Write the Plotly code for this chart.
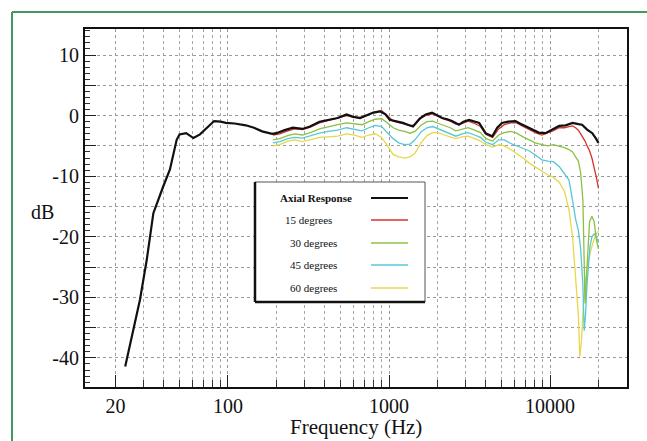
import plotly.graph_objects as go

# ---------------- data ----------------
axial_f = [23, 26, 28.4, 31.3, 34.4, 39.6, 43.6, 48, 50, 55, 61, 67, 75, 82, 90, 97, 110, 129, 145, 163,
           188, 200, 225, 253, 290, 323, 370, 430, 480, 545, 600, 661, 730, 800, 880, 950, 1010, 1100,
           1220, 1310, 1410, 1550, 1690, 1850, 2000, 2140, 2300, 2460, 2720, 2900, 3140, 3400, 3630,
           3980, 4380, 4700, 5030, 5500, 6100, 6500, 7030, 7700, 8500, 9370, 10300, 11400, 12500,
           13800, 15000, 15800, 17000, 18300, 19300, 20000]
axial_db = [-41.4, -35.0, -30.4, -23.8, -16.1, -11.7, -8.9, -4.0, -3.1, -2.9, -3.7, -3.1, -1.8, -0.9,
            -1.0, -1.2, -1.3, -1.6, -2.0, -2.6, -3.0, -2.9, -2.4, -2.0, -2.2, -1.8, -1.0, -0.6, -0.4,
            0.2, -0.2, -0.4, 0.1, 0.5, 0.7, 0.2, -0.7, -0.9, -1.2, -1.5, -1.8, -0.5, 0.2, 0.5, 0.0,
            -0.4, -0.6, -0.9, -1.5, -1.0, -0.7, -1.0, -1.2, -2.9, -3.4, -2.0, -1.2, -1.0, -0.9, -1.3,
            -1.75, -2.3, -2.8, -2.9, -2.3, -1.7, -1.6, -1.2, -1.4, -1.5, -2.3, -2.9, -3.8, -4.5]

off_f = [190, 210, 235, 260, 290, 325, 370, 420, 480, 545, 610, 680, 750, 820, 900, 980, 1060, 1150,
         1250, 1350, 1450, 1580, 1720, 1870, 2030, 2200, 2400, 2600, 2850, 3100, 3400, 3700, 4000,
         4400, 4800, 5200, 5700, 6200, 6800, 7400, 8100, 8900, 9700, 10500, 11400, 12300, 13100,
         13800, 14400, 15000, 15500, 16000, 16500, 17000, 17600, 18200, 18800, 19400, 20000]

deg15_db = [-3.2, -3.0, -2.5, -2.2, -2.3, -1.9, -1.2, -0.8, -0.5, 0.0, -0.3, -0.3, 0.2, 0.6, 0.8, 0.0,
            -0.9, -1.1, -1.4, -1.7, -1.5, -0.4, 0.1, 0.3, -0.2, -0.6, -0.9, -1.4, -1.3, -0.9, -1.3,
            -1.8, -3.1, -3.6, -2.2, -1.5, -1.2, -1.2, -1.8, -2.3, -2.8, -3.2, -2.9, -2.5, -2.0, -2.0,
            -1.8, -1.7, -2.0, -2.4, -3.0, -3.6, -4.2, -5.0, -5.8, -7.0, -8.5, -10.2, -12.0]

deg30_db = [-4.0, -3.8, -3.3, -3.0, -3.2, -2.8, -2.2, -1.8, -1.5, -1.2, -1.3, -1.5, -1.0, -0.6, -0.5,
            -1.2, -2.0, -2.4, -2.6, -2.9, -2.6, -1.6, -1.0, -0.9, -1.3, -1.6, -2.0, -2.5, -2.3, -2.0,
            -2.4, -2.8, -3.8, -4.2, -3.2, -2.8, -2.6, -2.9, -3.5, -4.0, -4.5, -4.8, -5.0, -4.8, -5.0,
            -5.3, -5.6, -6.0, -6.8, -7.5, -9.5, -14.0, -31.0, -24.0, -17.5, -16.6, -17.5, -20.5, -22.0]

deg45_f = [190, 210, 235, 260, 290, 325, 370, 420, 480, 545, 610, 680, 750, 820, 900, 980, 1060, 1150,
           1250, 1350, 1450, 1580, 1720, 1870, 2030, 2200, 2400, 2600, 2850, 3100, 3400, 3700, 4000,
           4400, 4800, 5200, 5700, 6200, 6800, 7400, 8100, 8900, 9700, 10500, 11400, 12300, 13100,
           13800, 14400, 15000, 15500, 16000, 16300, 16600, 17000, 17700, 18200, 18800, 19400, 20000]
deg45_db = [-4.5, -4.3, -3.8, -3.6, -3.7, -3.3, -2.9, -2.6, -2.4, -2.0, -2.2, -2.5, -2.0, -1.6, -1.8,
            -2.8, -3.8, -4.5, -4.8, -4.7, -4.0, -2.7, -2.0, -1.8, -2.2, -2.6, -3.0, -3.4, -3.0, -2.8,
            -3.2, -3.6, -4.4, -4.8, -4.0, -4.0, -4.6, -5.0, -5.4, -5.8, -6.5, -7.3, -7.5, -7.6, -8.4,
            -9.5, -10.6, -14.0, -17.0, -19.0, -22.0, -28.0, -35.5, -33.0, -27.6, -21.6, -20.0, -19.5,
            -20.0, -21.0]

deg60_f = [190, 210, 235, 260, 290, 325, 370, 420, 480, 545, 610, 680, 750, 820, 900, 980, 1060, 1150,
           1250, 1350, 1450, 1580, 1720, 1870, 2030, 2200, 2400, 2600, 2850, 3100, 3400, 3700, 4000,
           4400, 4800, 5200, 5700, 6200, 6800, 7400, 8100, 8900, 9700, 10500, 11400, 12300, 13100,
           13800, 14400, 15000, 15300, 15700, 16200, 17000, 18000, 19000, 20000]
deg60_db = [-5.0, -4.8, -4.2, -4.0, -4.3, -4.0, -3.6, -3.5, -3.4, -3.0, -3.2, -3.6, -3.2, -3.0, -3.6,
            -5.0, -6.4, -6.8, -7.0, -6.8, -6.2, -4.5, -3.3, -2.8, -2.8, -3.2, -3.5, -3.8, -3.5, -3.4,
            -3.8, -4.2, -4.8, -5.2, -4.8, -5.0, -5.6, -6.2, -7.0, -7.8, -8.5, -9.2, -9.8, -10.2, -11.0,
            -12.5, -15.5, -20.0, -26.0, -33.0, -39.8, -37.0, -30.0, -25.0, -22.0, -20.0, -19.0]

series_names = ["Axial Response", "15 degrees", "30 degrees", "45 degrees", "60 degrees"]
series_colors = ["#111111", "#d8322a", "#8cc043", "#56c8d8", "#e6d84a"]

x_major = [20, 100, 1000, 10000]
x_major_text = ["20", "100", "1000", "10000"]
x_minor = [30, 40, 50, 60, 70, 80, 90, 200, 300, 400, 500, 600, 700, 800, 900,
           2000, 3000, 4000, 5000, 6000, 7000, 8000, 9000, 20000]
y_ticks = [-40, -35, -30, -25, -20, -15, -10, -5, 0, 5, 10]
y_ticktext = ["-40", "", "-30", "", "-20", "", "-10", "", "0", "", "10"]

# ---------------- figure ----------------
FONT = "Liberation Serif, Times New Roman, serif"
fig = go.Figure()

traces = [(off_f, deg60_db, 3), (deg45_f, deg45_db, 2), (off_f, deg30_db, 1),
          (off_f, deg15_db, 0)]
for fx, fy, i in [(deg60_f, deg60_db, 4), (deg45_f, deg45_db, 3), (off_f, deg30_db, 2),
                  (off_f, deg15_db, 1)]:
    fig.add_trace(go.Scatter(x=fx, y=fy, mode="lines", name=series_names[i],
                             line=dict(color=series_colors[i], width=1.3), showlegend=False))
fig.add_trace(go.Scatter(x=axial_f, y=axial_db, mode="lines", name=series_names[0],
                         line=dict(color=series_colors[0], width=2.2), showlegend=False))

L, R, T, B = 85, 20, 29, 54
W, H = 647, 441
pw, ph = W - L - R, H - T - B


def px(x):
    return (x - L) / pw


def py(y):
    return (H - B - y) / ph


# legend box
fig.add_shape(type="rect", xref="paper", yref="paper", x0=px(255), x1=px(425), y0=py(302), y1=py(182),
              line=dict(color="#555555", width=1), fillcolor="white", layer="above")
fig.add_shape(type="line", xref="paper", yref="paper", x0=px(255), x1=px(255), y0=py(302), y1=py(182),
              line=dict(color="#111111", width=2.5), layer="above")
fig.add_shape(type="line", xref="paper", yref="paper", x0=px(255), x1=px(425), y0=py(302), y1=py(302),
              line=dict(color="#111111", width=2.5), layer="above")
leg_y = [198, 220, 243, 265, 288]
leg_x_right = [354, 334, 339, 339, 339]
for i, name in enumerate(series_names):
    fig.add_annotation(xref="paper", yref="paper", x=px(leg_x_right[i]), y=py(leg_y[i]),
                       xanchor="right", yanchor="middle", showarrow=False,
                       text=("<b>%s</b>" % name) if i == 0 else name,
                       font=dict(family=FONT, size=11, color="#111111"))
    fig.add_shape(type="line", xref="paper", yref="paper", x0=px(371), x1=px(408),
                  y0=py(leg_y[i]), y1=py(leg_y[i]), layer="above",
                  line=dict(color=series_colors[i], width=2 if i == 0 else 1.5))

# outer green border
fig.add_shape(type="line", xref="paper", yref="paper", x0=px(12), x1=px(12), y0=py(12), y1=py(445),
              line=dict(color="#3f9a62", width=2))
fig.add_shape(type="line", xref="paper", yref="paper", x0=px(12), x1=px(647), y0=py(12), y1=py(12),
              line=dict(color="#3f9a62", width=2))

# axis titles
fig.add_annotation(xref="paper", yref="paper", x=px(42), y=py(212), text="dB", showarrow=False,
                   xanchor="center", yanchor="middle", font=dict(family=FONT, size=20, color="#111"))
fig.add_annotation(xref="paper", yref="paper", x=px(356), y=py(427), text="Frequency (Hz)",
                   showarrow=False, xanchor="center", yanchor="middle",
                   font=dict(family=FONT, size=21, color="#111"))

fig.update_xaxes(type="log", range=[1.112, 4.478], tickmode="array", tickvals=x_major,
                 ticktext=x_major_text, ticks="inside", ticklen=12, tickwidth=1, tickcolor="#222",
                 showline=True, linecolor="#111", linewidth=2, mirror=True,
                 showgrid=True, gridcolor="#9a9a9a", griddash="dot", gridwidth=1,
                 tickfont=dict(family=FONT, size=20, color="#111"),
                 minor=dict(tickmode="array", tickvals=x_minor, ticks="inside", ticklen=7,
                            tickcolor="#333", showgrid=True, gridcolor="#a8a8a8", griddash="dot"),
                 zeroline=False)
fig.update_yaxes(range=[-44.8, 14.3], tickmode="array", tickvals=y_ticks, ticktext=y_ticktext,
                 ticks="inside", ticklen=11, tickcolor="#222", showline=True, linecolor="#111",
                 linewidth=2, mirror=True, showgrid=True, gridcolor="#9a9a9a", griddash="dot",
                 tickfont=dict(family=FONT, size=20, color="#111"),
                 minor=dict(dtick=1, ticks="inside", ticklen=5, tickcolor="#333", showgrid=False),
                 zeroline=False)

fig.update_layout(width=W, height=H, margin=dict(l=L, r=R, t=T, b=B, autoexpand=False),
                  paper_bgcolor="white", plot_bgcolor="white", showlegend=False)

fig.write_html("out.html")
